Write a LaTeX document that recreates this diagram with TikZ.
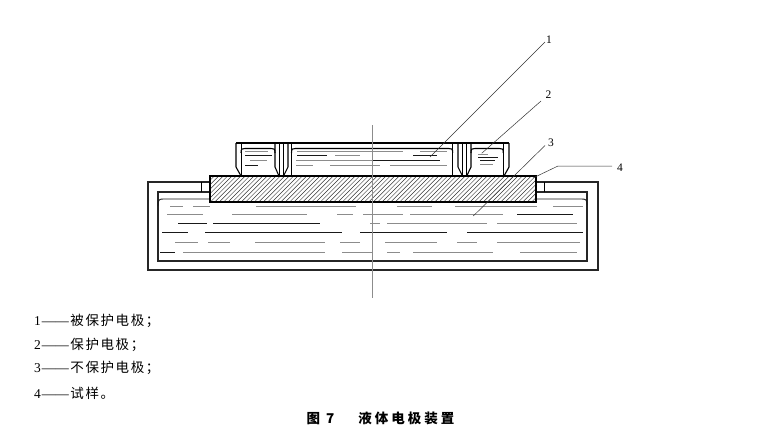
\documentclass[tikz,border=0pt]{standalone}
\usepackage{fontspec}
\setmainfont{Liberation Serif}
\newfontfamily\cjk{Noto Sans CJK SC}
\newcommand\ckk{\kern1.6pt}
\begin{document}
\begin{tikzpicture}[x=1pt,y=-1pt,
  vessel/.style={draw=black!85,line width=1.4pt},
  wall/.style={draw=black,line width=1.1pt},
  thinwall/.style={draw=black,line width=0.9pt},
  hatch/.style={draw=black!80,line width=0.45pt},
  liq/.style={draw=black!45,line width=0.9pt},
  liqb/.style={draw=black!90,line width=0.9pt},
  leader/.style={draw=black!80,line width=0.5pt},
  axis/.style={draw=black!45,line width=1.2pt},
  lab/.style={font=\fontsize{11.5}{11.5}\selectfont,inner sep=0pt},
  legend/.style={anchor=west,inner sep=0pt,font=\fontsize{13.5}{13.5}\selectfont},
  caption/.style={inner sep=0pt,font=\fontsize{13.5}{13.5}\selectfont\cjk\bfseries}]
\useasboundingbox (0,0) rectangle (770,434);

% vessel
\draw[vessel] (210,182) -- (148,182) -- (148,270) -- (598,270) -- (598,182) -- (536,182);
\draw[vessel] (210,192) -- (158,192) -- (158,261) -- (587,261) -- (587,192) -- (536,192);
\draw[thinwall] (201,182) -- (201,192);
\draw[thinwall] (544,182) -- (544,192);
% liquid surface in vessel
\draw[liqb] (158,206) .. controls (158,200) and (159,199) .. (163,199) -- (210,199);
\draw[liqb] (536,199) -- (582,199) .. controls (586,199) and (587,200) .. (587,205);

% vessel liquid lines
\draw[liq] (170,206.5) -- (183,206.5) (193,206.5) -- (210,206.5) (256,206.5) -- (356,206.5)
           (397,206.5) -- (432,206.5) (455,206.5) -- (537,206.5) (553,206.5) -- (583,206.5);
\draw[liq] (167,214) -- (203,214) (232,214) -- (307,214) (337,214) -- (353,214)
           (363,214) -- (403,214) (410,214) -- (503,214);
\draw[liqb] (517,214) -- (573,214);
\draw[liqb] (178,223) -- (207,223) (213,223) -- (320,223);
\draw[liq] (370,223) -- (380,223) (387,223) -- (487,223) (497,223) -- (577,223);
\draw[liqb] (162,232) -- (188,232) (205,232) -- (342,232) (360,232) -- (447,232) (467,232) -- (583,232);
\draw[liq] (175,242) -- (198,242) (208,242) -- (230,242) (255,242) -- (325,242) (340,242) -- (360,242)
           (385,242) -- (437,242) (457,242) -- (477,242) (497,242) -- (580,242);
\draw[liqb] (160,252) -- (175,252);
\draw[liq] (183,252) -- (325,252) (342,252) -- (373,252) (387,252) -- (400,252)
           (413,252) -- (493,252) (520,252) -- (577,252);

% specimen with hatching
\begin{scope}
  \clip (210,176) rectangle (536,202);
  \foreach \i in {0,...,80} { \draw[hatch] ({184+\i*4.4},202) -- ++(26,-26); }
\end{scope}
\draw[wall] (210,176) rectangle (536,202);

% electrode assembly
\draw[wall] (236,143) -- (509,143);
\draw[wall] (236,143) -- (236,167) -- (241,176);
\draw[thinwall] (241,143) -- (241,176);
\draw[wall] (275,143) -- (275,167) -- (279,176);
\draw[thinwall] (279,143) -- (279,176);
\draw[thinwall] (283.5,143) -- (283.5,176);
\draw[wall] (288,143) -- (288,167) -- (283.5,176);
\draw[thinwall] (291.5,143) -- (291.5,176);
\draw[thinwall] (452.7,143) -- (452.7,176);
\draw[wall] (458,143) -- (458,167) -- (462.5,176);
\draw[thinwall] (462.5,143) -- (462.5,176);
\draw[thinwall] (466.7,143) -- (466.7,176);
\draw[wall] (471,143) -- (471,167) -- (466.7,176);
\draw[thinwall] (503.3,143) -- (503.3,176);
\draw[wall] (509,143) -- (509,167) -- (504,176);
% menisci
\foreach \a/\b in {241/275, 291.5/452.7, 471/503.3}
  \draw[wall] (\a,153) .. controls (\a,148.5) and (\a+1,148.5) .. (\a+4,148.5) -- (\b-4,148.5)
              .. controls (\b-1,148.5) and (\b,148.5) .. (\b,153);
% electrode liquid lines
\draw[liq] (245,151.5) -- (268,151.5) (250,160) -- (267,160);
\draw[liqb] (245,155.5) -- (272,155.5) (245,165) -- (258,165);
\draw[liq] (297,151.5) -- (403,151.5) (420,151.5) -- (447,151.5);
\draw[liqb] (297,155) -- (327,155) (413,155) -- (437,155);
\draw[liq] (335,155) -- (360,155);
\draw[liq] (296,160) -- (372,160);
\draw[liqb] (372,160) -- (440,160);
\draw[liq] (296,165.5) -- (313,165.5) (330,165.5) -- (380,165.5) (390,165.5) -- (447,165.5);
\draw[liq] (478,154) -- (488,154) (480,164.3) -- (493,164.3);
\draw[liqb] (478,157) -- (498,157) (480,160.5) -- (495,160.5);

% centre line
\coordinate (ctop) at (372.7,125);
\coordinate (cbot) at (372.7,298);
\draw[axis] (ctop) -- (cbot);

% labels and leaders
\node[lab] (n1) at (549,40) {1};
\node[lab] (n2) at (548.5,95) {2};
\node[lab] (n3) at (551,143) {3};
\node[lab] (n4) at (620,167.5) {4};
\coordinate (p1) at (430,157);
\coordinate (q1) at (545,42);
\coordinate (p2) at (481.7,153.3);
\coordinate (q2) at (541,101);
\coordinate (p3) at (473.3,216);
\coordinate (q3) at (545,145.5);
\coordinate (p4) at (533,178);
\coordinate (k4) at (558,166);
\coordinate (q4) at (612,166);
\draw[leader] (p1) -- (q1);
\draw[leader] (p2) -- (q2);
\draw[leader] (p3) -- (q3);
\draw[leader] (p4) -- (k4) -- (q4);

% legend
\node[legend] (g1) at (34,321) {1\kern1pt——\kern1.5pt{\cjk 被\ckk 保\ckk 护\ckk 电\ckk 极\ckk ；}};
\node[legend] (g2) at (34,344.5) {2\kern1pt——\kern1.5pt{\cjk 保\ckk 护\ckk 电\ckk 极\ckk ；}};
\node[legend] (g3) at (34,368) {3\kern1pt——\kern1.5pt{\cjk 不\ckk 保\ckk 护\ckk 电\ckk 极\ckk ；}};
\node[legend] (g4) at (34,393) {4\kern1pt——\kern1.5pt{\cjk 试\ckk 样\ckk 。}};

% caption
\node[caption,anchor=west] (cap) at (306.5,418) {图\kern6pt 7\kern24pt 液\kern3pt 体\kern3pt 电\kern3pt 极\kern3pt 装\kern3pt 置};
\end{tikzpicture}
\end{document}
